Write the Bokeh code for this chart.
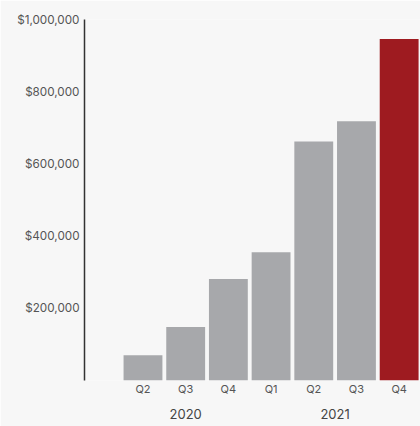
from bokeh.plotting import figure
from bokeh.models import Range1d, FixedTicker, LinearAxis, NumeralTickFormatter, ColumnDataSource
from bokeh.embed import file_html
from bokeh.resources import INLINE

quarters = ["Q2", "Q3", "Q4", "Q1", "Q2", "Q3", "Q4"]
years = ["2020", "2021"]
year_quarter_count = [3, 4]
values = [70000, 148000, 281000, 355000, 662000, 718000, 946000]
y_ticks = [200000, 400000, 600000, 800000, 1000000]

positions = list(range(1, len(values) + 1))
colors = ["#a7a8ab"] * (len(values) - 1) + ["#9e1b20"]

src = ColumnDataSource(dict(x=positions, top=values, color=colors))

p = figure(width=420, height=426, output_backend="svg", toolbar_location=None,
           x_range=Range1d(-0.37, 7.5), y_range=Range1d(0, 1000000),
           min_border_left=84, min_border_right=0, min_border_top=19, min_border_bottom=46,
           background_fill_color="#f7f7f7", border_fill_color="#f7f7f7",
           outline_line_color=None)
p.xaxis.visible = False
p.grid.visible = False

p.vbar(x="x", top="top", width=0.91, bottom=0, fill_color="color", line_color=None, source=src)

# y axis
p.yaxis.ticker = FixedTicker(ticks=y_ticks)
p.yaxis.formatter = NumeralTickFormatter(format="$0,0")
p.yaxis.major_tick_line_color = None
p.yaxis.minor_tick_line_color = None
p.yaxis.major_tick_out = 0
p.yaxis.axis_line_color = "#333333"
p.yaxis.axis_line_width = 1.5
p.yaxis.major_label_text_font = "Inter"
p.yaxis.major_label_text_font_size = "11.7px"
p.yaxis.major_label_text_color = "#555555"
p.yaxis.major_label_standoff = 5

# quarter axis
qax = LinearAxis(ticker=FixedTicker(ticks=positions),
                 major_label_overrides={pos: q for pos, q in zip(positions, quarters)})
# year axis
centers = []
start = 1
for n in year_quarter_count:
    centers.append(start + (n - 1) / 2)
    start += n
yax = LinearAxis(ticker=FixedTicker(ticks=centers),
                 major_label_overrides={c: y for c, y in zip(centers, years)})
for ax, size, color, standoff in [(qax, "11px", "#555555", 1), (yax, "13px", "#444444", 10)]:
    ax.axis_line_color = None
    ax.major_tick_line_color = None
    ax.minor_tick_line_color = None
    ax.major_tick_out = 0
    ax.major_tick_in = 0
    ax.major_label_text_font = "Inter"
    ax.major_label_text_font_size = size
    ax.major_label_text_color = color
    ax.major_label_standoff = standoff
    p.add_layout(ax, "below")

open("out.html", "w").write(file_html(p, INLINE))
